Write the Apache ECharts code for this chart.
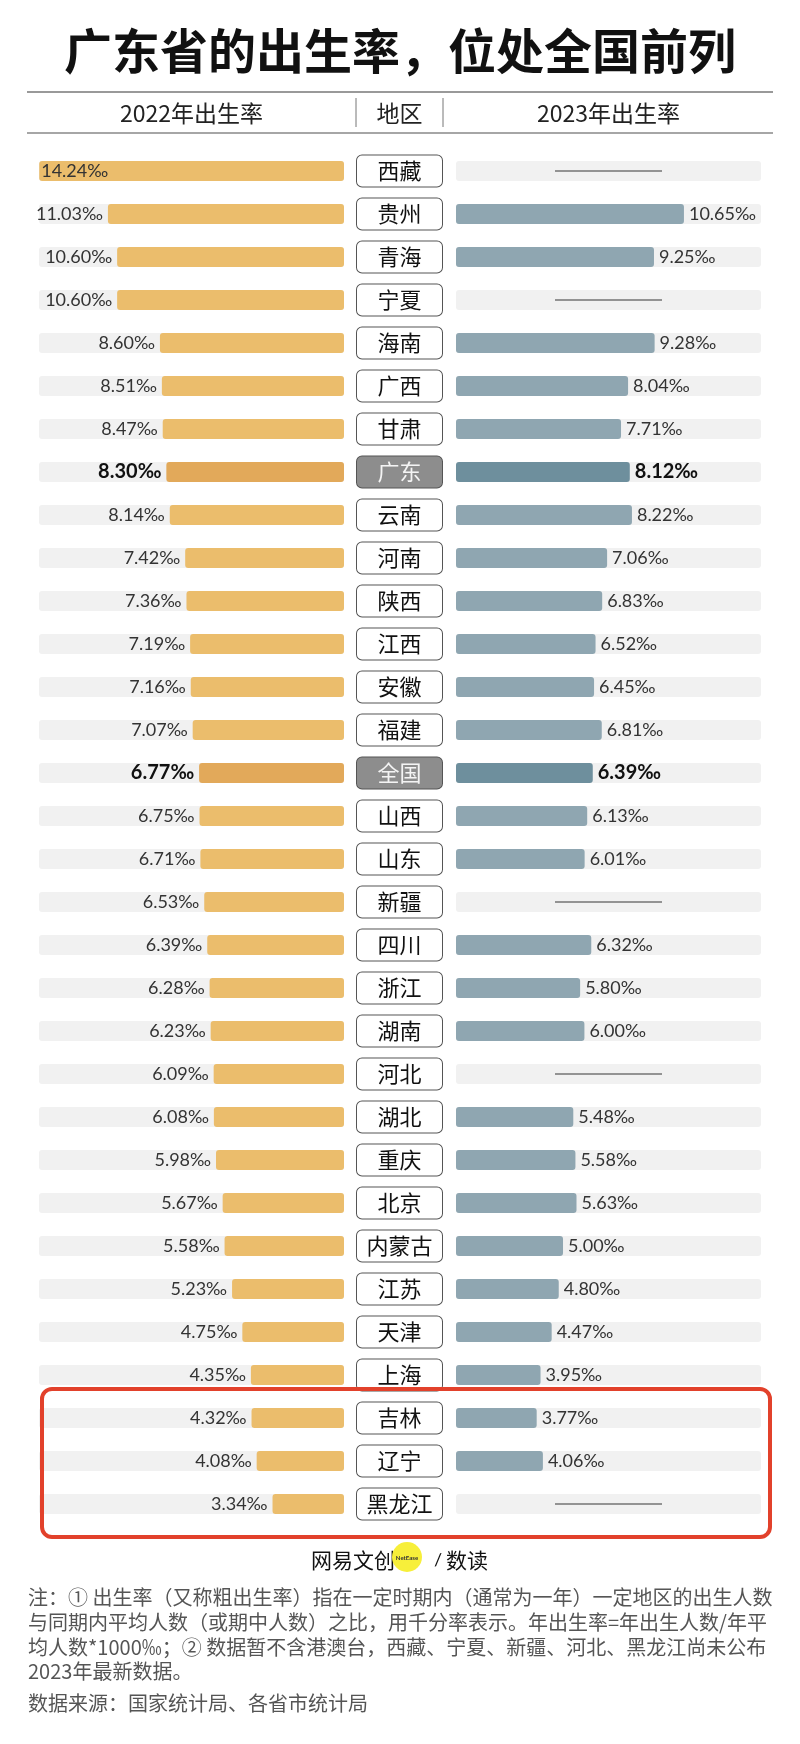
<!DOCTYPE html>
<html>
<head>
<meta charset="utf-8">
<script src="https://cdn.jsdelivr.net/npm/echarts@6/dist/echarts.min.js"></script>
<style>html,body{margin:0;padding:0;background:#fff}#c{width:800px;height:1744px}</style>
</head>
<body>
<div id="c"></div>
<script>
const TITLE = '广东省的出生率，位处全国前列';
const HEADERS = ['2022年出生率', '地区', '2023年出生率'];
const regions = ['西藏','贵州','青海','宁夏','海南','广西','甘肃','广东','云南','河南','陕西','江西','安徽','福建','全国','山西','山东','新疆','四川','浙江','湖南','河北','湖北','重庆','北京','内蒙古','江苏','天津','上海','吉林','辽宁','黑龙江'];
const rate2022 = [14.24,11.03,10.60,10.60,8.60,8.51,8.47,8.30,8.14,7.42,7.36,7.19,7.16,7.07,6.77,6.75,6.71,6.53,6.39,6.28,6.23,6.09,6.08,5.98,5.67,5.58,5.23,4.75,4.35,4.32,4.08,3.34];
const rate2023 = [null,10.65,9.25,null,9.28,8.04,7.71,8.12,8.22,7.06,6.83,6.52,6.45,6.81,6.39,6.13,6.01,null,6.32,5.80,6.00,null,5.48,5.58,5.63,5.00,4.80,4.47,3.95,3.77,4.06,null];
const highlight = ['广东', '全国'];
const NOTES = [
  '注：① 出生率（又称粗出生率）指在一定时期内（通常为一年）一定地区的出生人数',
  '与同期内平均人数（或期中人数）之比，用千分率表示。年出生率=年出生人数/年平',
  '均人数*1000‰；② 数据暂不含港澳台，西藏、宁夏、新疆、河北、黑龙江尚未公布',
  '2023年最新数据。'
];
const SOURCE = '数据来源：国家统计局、各省市统计局';
const AXIS_MAX = 14.25;

const CJK = '"Noto Sans CJK SC","Noto Sans",sans-serif';
const NUM = 'Lato,"Noto Sans",sans-serif';
const GOLD = '#ebbd6c', GOLD_H = '#e2a95a';
const BLUE = '#8fa6b1', BLUE_H = '#6e8f9d';
const TRACK = '#f1f1f1';

const fmt = v => v.toFixed(2) + '‰';
const isH = i => highlight.includes(regions[i]);

const leftData = rate2022.map((v, i) => {
  const inside = v / AXIS_MAX > 0.8;
  return {
    value: v,
    itemStyle: { color: isH(i) ? GOLD_H : GOLD },
    label: {
      position: inside ? 'insideLeft' : 'left',
      distance: inside ? 2 : 5,
      fontWeight: isH(i) ? 'bold' : 'normal',
      fontSize: isH(i) ? 20 : 18,
      color: isH(i) ? '#111' : '#333'
    }
  };
});
const rightData = rate2023.map((v, i) => ({
  value: v == null ? null : v,
  itemStyle: { color: isH(i) ? BLUE_H : BLUE },
  label: {
    fontWeight: isH(i) ? 'bold' : 'normal',
    fontSize: isH(i) ? 20 : 18,
    color: isH(i) ? '#111' : '#333'
  }
}));
const missing = [];
rate2023.forEach((v, i) => { if (v == null) missing.push([AXIS_MAX / 2, i]); });

const gridTop = 149.5, gridH = 1376;
const chart = echarts.init(document.getElementById('c'), null, { renderer: 'canvas' });

const boxBase = { width: 85, height: 31, lineHeight: 31, align: 'center', borderWidth: 1, borderRadius: 5, fontSize: 22, fontFamily: CJK, padding: 0 };

chart.setOption({
  animation: false,
  backgroundColor: '#fff',
  grid: [
    { left: 39, width: 305, top: gridTop, height: gridH },
    { left: 456, width: 305, top: gridTop, height: gridH }
  ],
  xAxis: [
    { gridIndex: 0, type: 'value', min: 0, max: AXIS_MAX, inverse: true, show: false },
    { gridIndex: 1, type: 'value', min: 0, max: AXIS_MAX, show: false }
  ],
  yAxis: [
    {
      gridIndex: 0, type: 'category', data: regions, inverse: true, position: 'right',
      axisLine: { show: false }, axisTick: { show: false }, splitLine: { show: false },
      axisLabel: {
        interval: 0, margin: 55.5, align: 'center', verticalAlign: 'middle',
        formatter: v => highlight.includes(v) ? '{h|' + v + '}' : '{n|' + v + '}',
        rich: {
          n: Object.assign({}, boxBase, { backgroundColor: '#fff', borderColor: '#555', color: '#111' }),
          h: Object.assign({}, boxBase, { backgroundColor: '#8d8d8d', borderColor: '#555', color: '#f4f4f4' })
        }
      }
    },
    { gridIndex: 1, type: 'category', data: regions, inverse: true, show: false }
  ],
  series: [
    {
      type: 'bar', xAxisIndex: 0, yAxisIndex: 0, data: leftData, barWidth: 20,
      itemStyle: { borderRadius: 3 },
      showBackground: true, backgroundStyle: { color: TRACK, borderRadius: 3 },
      label: { show: true, formatter: p => fmt(p.value), fontFamily: NUM }
    },
    {
      type: 'bar', xAxisIndex: 1, yAxisIndex: 1, data: rightData, barWidth: 20,
      itemStyle: { borderRadius: 3 },
      showBackground: true, backgroundStyle: { color: TRACK, borderRadius: 3 },
      label: { show: true, position: 'right', distance: 5, formatter: p => fmt(p.value), fontFamily: NUM }
    },
    {
      type: 'scatter', xAxisIndex: 1, yAxisIndex: 1, data: missing, z: 5,
      symbol: 'rect', symbolSize: [107, 1.5], itemStyle: { color: '#555' }, silent: true
    }
  ],
  graphic: [
    { type: 'text', left: 'center', top: 27, style: { text: TITLE, font: 'bold 48px ' + CJK, fill: '#111' } },
    { type: 'line', shape: { x1: 27, y1: 92, x2: 773, y2: 92 }, style: { stroke: '#777', lineWidth: 1.5 } },
    { type: 'line', shape: { x1: 27, y1: 133, x2: 773, y2: 133 }, style: { stroke: '#888', lineWidth: 1.5 } },
    { type: 'line', shape: { x1: 356, y1: 98, x2: 356, y2: 127 }, style: { stroke: '#777', lineWidth: 1 } },
    { type: 'line', shape: { x1: 443, y1: 98, x2: 443, y2: 127 }, style: { stroke: '#777', lineWidth: 1 } },
    { type: 'text', x: 191.5, y: 113, style: { text: HEADERS[0], font: '23px ' + CJK, fill: '#222', textAlign: 'center', textVerticalAlign: 'middle' } },
    { type: 'text', x: 399.5, y: 113, style: { text: HEADERS[1], font: '23px ' + CJK, fill: '#222', textAlign: 'center', textVerticalAlign: 'middle' } },
    { type: 'text', x: 608.5, y: 113, style: { text: HEADERS[2], font: '23px ' + CJK, fill: '#222', textAlign: 'center', textVerticalAlign: 'middle' } },
    { type: 'rect', shape: { x: 42, y: 1389, width: 728, height: 148, r: 10 }, style: { fill: 'none', stroke: '#e2412b', lineWidth: 4 }, z: 10 },
    { type: 'text', x: 311, y: 1560, style: { text: '网易文创', font: '21px ' + CJK, fill: '#111', textVerticalAlign: 'middle' } },
    { type: 'circle', shape: { cx: 407, cy: 1557, r: 15 }, style: { fill: '#f7ef3a' } },
    { type: 'text', x: 407, y: 1558, style: { text: 'NetEase', font: 'bold 6px ' + NUM, fill: '#333', textAlign: 'center', textVerticalAlign: 'middle' } },
    { type: 'text', x: 434, y: 1560, style: { text: '/', font: '18px ' + NUM, fill: '#111', textVerticalAlign: 'middle' } },
    { type: 'text', x: 446, y: 1560, style: { text: '数读', font: '21px ' + CJK, fill: '#111', textVerticalAlign: 'middle' } },
    { type: 'text', x: 28, y: 1597, style: { text: NOTES[0], font: '20px ' + CJK, fill: '#555', textVerticalAlign: 'middle' } },
    { type: 'text', x: 28, y: 1622, style: { text: NOTES[1], font: '20px ' + CJK, fill: '#555', textVerticalAlign: 'middle' } },
    { type: 'text', x: 28, y: 1647, style: { text: NOTES[2], font: '20px ' + CJK, fill: '#555', textVerticalAlign: 'middle' } },
    { type: 'text', x: 28, y: 1671, style: { text: NOTES[3], font: '20px ' + CJK, fill: '#555', textVerticalAlign: 'middle' } },
    { type: 'text', x: 28, y: 1703, style: { text: SOURCE, font: '20px ' + CJK, fill: '#555', textVerticalAlign: 'middle' } }
  ]
});
</script>
</body>
</html>
